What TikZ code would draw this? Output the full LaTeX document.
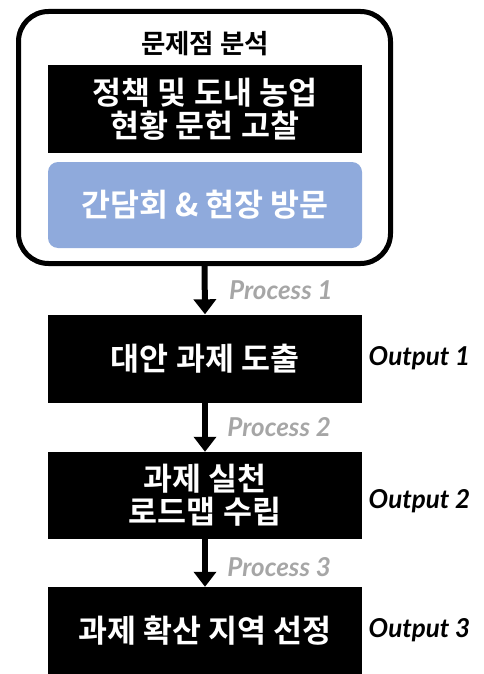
\documentclass[tikz,border=0pt]{standalone}
\usepackage{fontspec}
\usetikzlibrary{arrows.meta,positioning}
\newfontfamily\kr{Noto Sans CJK KR}[BoldFont={* Bold}]
\newfontfamily\lat{Lato}
\definecolor{softblue}{HTML}{8FAADC}
\definecolor{procgray}{HTML}{A6A6A6}

\tikzset{
  step box/.style={fill=black, text=white, minimum width=314pt, minimum height=88pt,
    inner sep=0pt, align=center, font=\kr\bfseries\fontsize{31.5}{33}\selectfont},
  flow/.style={line width=6pt, -{Triangle[width=22pt,length=15pt]}},
  proc/.style={text=procgray, font=\lat\bfseries\itshape\fontsize{26}{28}\selectfont},
  outlabel/.style={font=\lat\bfseries\itshape\fontsize{26}{28}\selectfont}
}

\begin{document}
\begin{tikzpicture}[x=1pt,y=-1pt]
  \useasboundingbox (0,0) rectangle (484,674);

  %% problem analysis group
  \node[draw, line width=5pt, rounded corners=30pt, minimum width=372pt, minimum height=252pt] (analysis) at (204.5,137.5) {};
  \node[font=\kr\bfseries\fontsize{26.5}{28}\selectfont] (title) at (205,44) {문제점 분석};
  \node[step box] (review) at (205,109) {정책 및 도내 농업\\현황 문헌 고찰};
  \node[step box, fill=softblue, minimum height=86pt, rounded corners=10pt] (visit) at (205,205) {간담회 \& 현장 방문};

  %% steps
  \node[step box] (task) at (205,358.5) {대안 과제 도출};
  \node[step box, minimum height=87pt] (roadmap) at (205,495.5) {과제 실천\\로드맵 수립};
  \node[step box, minimum height=87pt] (region) at (205,630.5) {과제 확산 지역 선정};

  \node[outlabel, right=3pt of task] (out1) {Output 1};
  \node[outlabel, right=3pt of roadmap, yshift=-6pt] (out2) {Output 2};
  \node[outlabel, right=3pt of region] (out3) {Output 3};

  \draw[flow] (analysis.south) -- node[proc, right=18pt] (p1) {Process 1} (task.north);
  \draw[flow] (task.south) -- node[proc, right=16pt] (p2) {Process 2} (roadmap.north);
  \draw[flow] (roadmap.south) -- node[proc, right=16pt, yshift=-4pt] (p3) {Process 3} (region.north);
\end{tikzpicture}
\end{document}
